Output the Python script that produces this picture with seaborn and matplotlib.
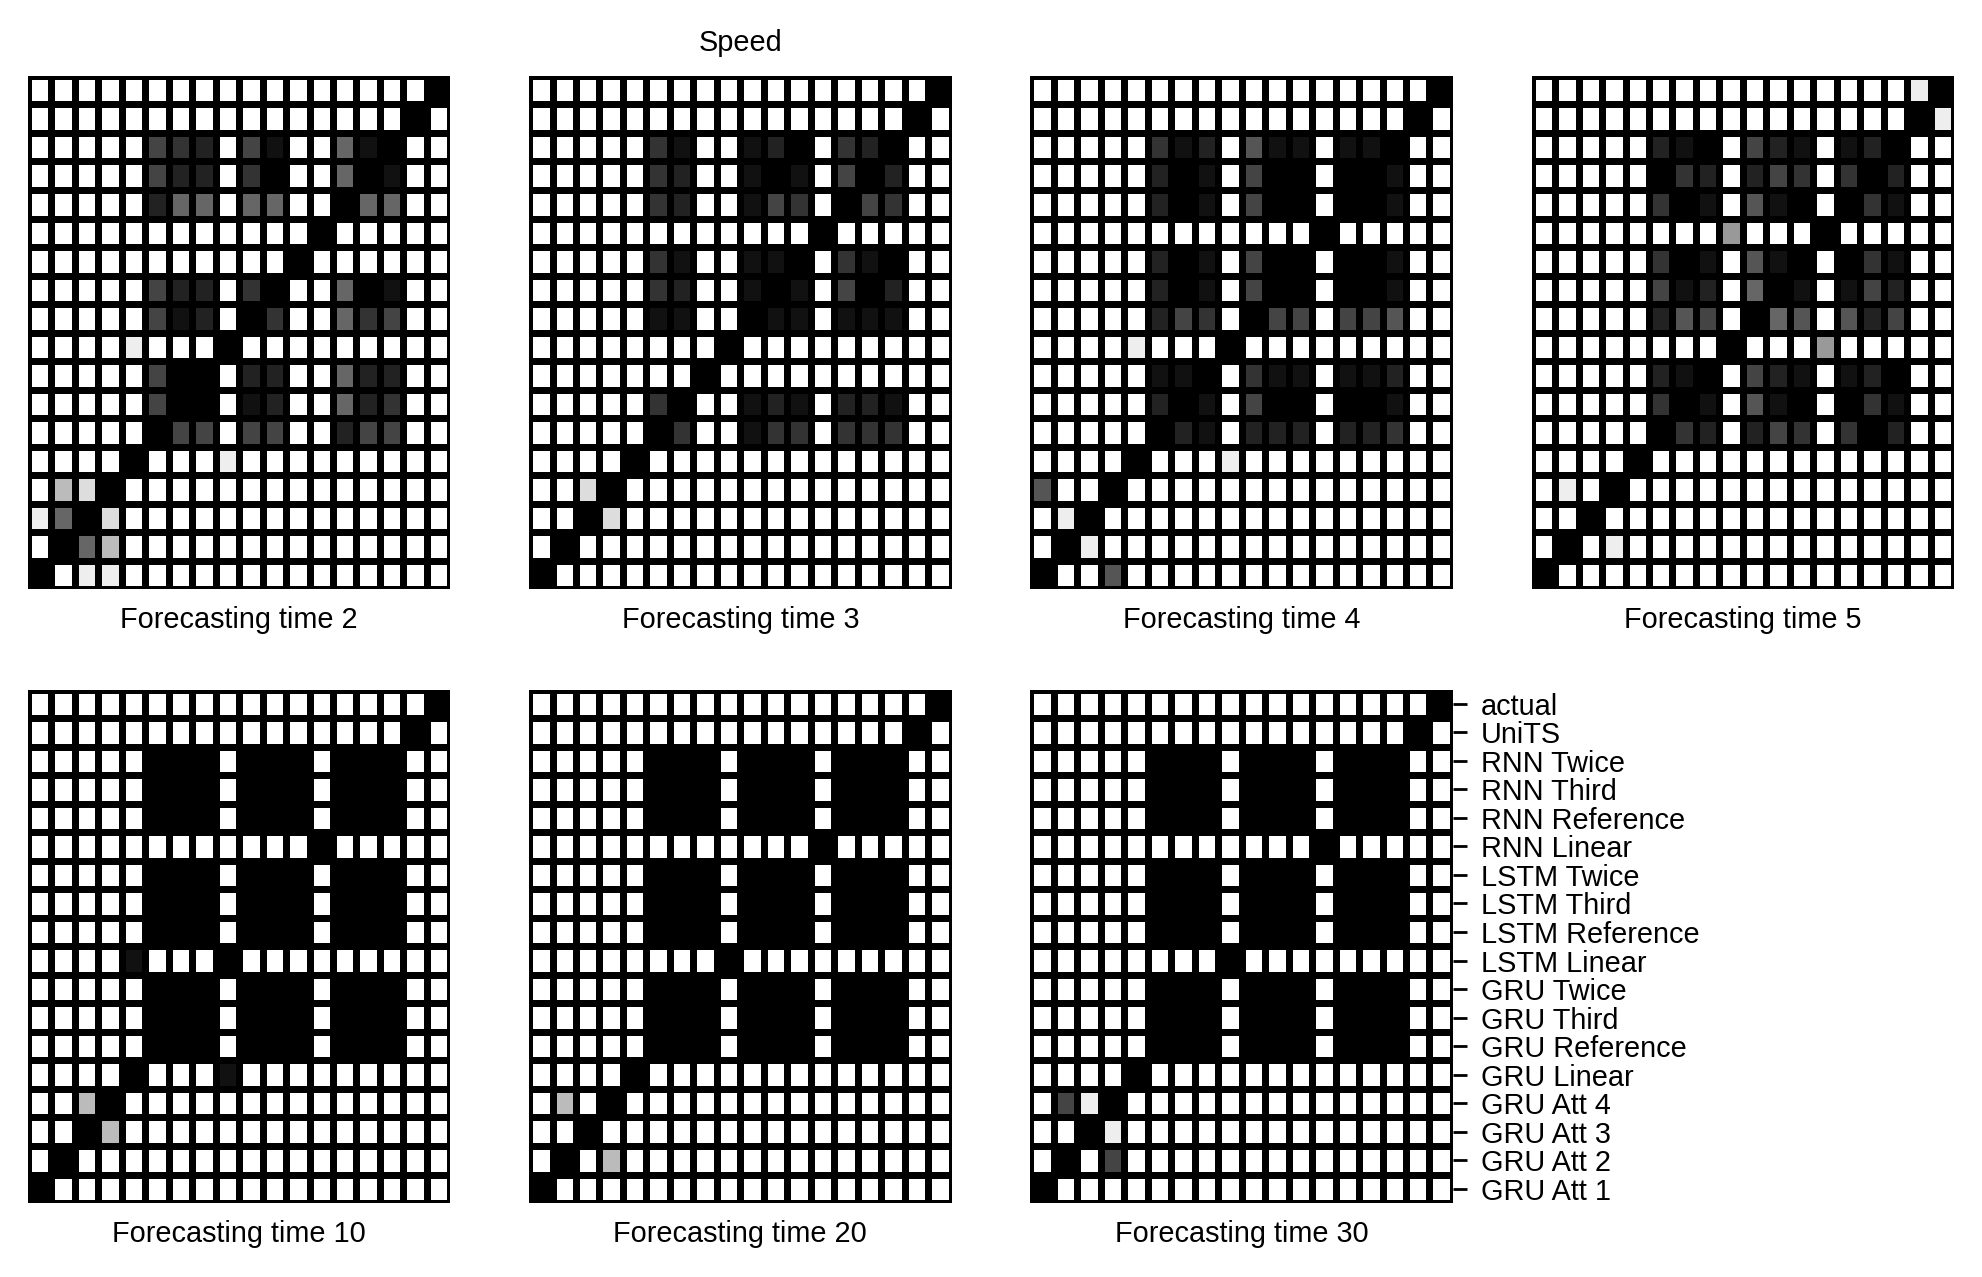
import numpy as np
import pandas as pd
import matplotlib
matplotlib.use("Agg")
import matplotlib.pyplot as plt
import seaborn as sns

sns.set_style("white")
plt.rcParams['font.family'] = ['Liberation Sans', 'DejaVu Sans']
plt.rcParams['text.color'] = 'black'
plt.rcParams['axes.labelcolor'] = 'black'
plt.rcParams['xtick.color'] = 'black'
plt.rcParams['ytick.color'] = 'black'

# model names, top row to bottom row (columns run the other way, left to right = bottom to top)
models = ['actual', 'UniTS', 'RNN Twice', 'RNN Third', 'RNN Reference', 'RNN Linear',
          'LSTM Twice', 'LSTM Third', 'LSTM Reference', 'LSTM Linear',
          'GRU Twice', 'GRU Third', 'GRU Reference', 'GRU Linear',
          'GRU Att 4', 'GRU Att 3', 'GRU Att 2', 'GRU Att 1']

horizons = [2, 3, 4, 5, 10, 20, 30]

# cell shades, one hex digit per cell: 0 = black, f = white
time2 = ["fffffffffffffffff0",
         "ffffffffffffffff0f",
         "fffff432f41ff610ff",
         "fffff422f30ff601ff",
         "fffff266f66ff066ff",
         "ffffffffffff0fffff",
         "fffffffffff0ffffff",
         "fffff422f30ff601ff",
         "fffff412f03ff634ff",
         "ffffefff0fffffffff",
         "fffff400f22ff622ff",
         "fffff400f12ff623ff",
         "fffff044f44ff244ff",
         "ffff0fffefffffffff",
         "fbd0ffffffffffffff",
         "e60dffffffffffffff",
         "f06bffffffffffffff",
         "0feeffffffffffffff"]

time3 = ["fffffffffffffffff0",
         "ffffffffffffffff0f",
         "fffff31ff120f320ff",
         "fffff32ff101f402ff",
         "fffff32ff143f043ff",
         "ffffffffffff0fffff",
         "fffff31ff110f310ff",
         "fffff32ff101f402ff",
         "fffff11ff011f111ff",
         "ffffffff0fffffffff",
         "fffffff0ffffffffff",
         "fffff30ff121f221ff",
         "fffff03ff133f333ff",
         "ffff0fffffffffffff",
         "ffd0ffffffffffffff",
         "ff0dffffffffffffff",
         "f0ffffffffffffffff",
         "0fffffffffffffffff"]

time4 = ["fffffffffffffffff0",
         "ffffffffffffffff0f",
         "fffff312f511f110ff",
         "fffff201f400f001ff",
         "fffff201f400f001ff",
         "ffffffffffff0fffff",
         "fffff201f400f001ff",
         "fffff201f400f001ff",
         "fffff243f044f445ff",
         "ffffefff0fffffffff",
         "fffff110f311f112ff",
         "fffff201f400f001ff",
         "fffff021f222f223ff",
         "ffff0fffefffffffff",
         "5ff0ffffffffffffff",
         "fe0fffffffffffffff",
         "f0efffffffffffffff",
         "0ff5ffffffffffffff"]

time5 = ["ffffffffffffffffe0",
         "ffffffffffffffff0e",
         "fffff210f421f120ff",
         "fffff032f243f302ff",
         "fffff301f510f031ff",
         "ffffffff9fff0fffff",
         "fffff301f510f031ff",
         "fffff412f601f142ff",
         "fffff254f065f524ff",
         "ffffffff0fff9fffff",
         "fffff210f421f120ff",
         "fffff301f510f031ff",
         "fffff032f243f302ff",
         "ffff0fffffffffffff",
         "fef0ffffffffffffff",
         "ff0fffffffffffffff",
         "f0feffffffffffffff",
         "0fffffffffffffffff"]

time10 = ["fffffffffffffffff0",
          "ffffffffffffffff0f",
          "fffff000f000f000ff",
          "fffff000f000f000ff",
          "fffff000f000f000ff",
          "ffffffffffff0fffff",
          "fffff000f000f000ff",
          "fffff000f000f000ff",
          "fffff000f000f000ff",
          "ffff1fff0fffffffff",
          "fffff000f000f000ff",
          "fffff000f000f000ff",
          "fffff000f000f000ff",
          "ffff0fff1fffffffff",
          "ffb0ffffffffffffff",
          "ff0bffffffffffffff",
          "f0ffffffffffffffff",
          "0fffffffffffffffff"]

time20 = ["fffffffffffffffff0",
          "ffffffffffffffff0f",
          "fffff000f000f000ff",
          "fffff000f000f000ff",
          "fffff000f000f000ff",
          "ffffffffffff0fffff",
          "fffff000f000f000ff",
          "fffff000f000f000ff",
          "fffff000f000f000ff",
          "ffffffff0fffffffff",
          "fffff000f000f000ff",
          "fffff000f000f000ff",
          "fffff000f000f000ff",
          "ffff0fffffffffffff",
          "fbf0ffffffffffffff",
          "ff0fffffffffffffff",
          "f0fbffffffffffffff",
          "0fffffffffffffffff"]

time30 = ["fffffffffffffffff0",
          "ffffffffffffffff0f",
          "fffff000f000f000ff",
          "fffff000f000f000ff",
          "fffff000f000f000ff",
          "ffffffffffff0fffff",
          "fffff000f000f000ff",
          "fffff000f000f000ff",
          "fffff000f000f000ff",
          "ffffffff0fffffffff",
          "fffff000f000f000ff",
          "fffff000f000f000ff",
          "fffff000f000f000ff",
          "ffff0fffffffffffff",
          "f4e0ffffffffffffff",
          "ff0effffffffffffff",
          "f0f4ffffffffffffff",
          "0fffffffffffffffff"]

panels = [time2, time3, time4, time5, time10, time20, time30]


def to_frame(rows):
    # darkness 0..1, 1 = black
    vals = [[1 - int(ch, 16) / 15 for ch in r] for r in rows]
    return pd.DataFrame(vals, index=models, columns=models[::-1])


fig, axes = plt.subplots(2, 4, figsize=(9.91, 6.385), dpi=200)
plt.subplots_adjust(left=0.014, right=0.986, top=0.9406, bottom=0.0579,
                    wspace=0.186, hspace=0.195)

for i, ax in enumerate(axes.flat):
    if i >= len(panels):
        ax.axis('off')
        continue
    last = i == len(panels) - 1
    sns.heatmap(to_frame(panels[i]), ax=ax, cmap='gray_r', vmin=0, vmax=1, cbar=False,
                linewidths=2.4, linecolor='black',
                xticklabels=False, yticklabels=models if last else False)
    ax.set_xlabel(f'Forecasting time {horizons[i]}', fontsize=10.4, labelpad=6)
    ax.set_ylabel('')
    if last:
        ax.yaxis.tick_right()
        ax.tick_params(axis='y', left=False, right=True, length=5, width=1,
                       pad=5, labelsize=10.4, labelrotation=0, color='black',
                       labelcolor='black')
    else:
        ax.tick_params(left=False, bottom=False)
    if i == 1:
        ax.set_title('Speed', fontsize=10.4, pad=9)

plt.savefig('out.png', dpi=200)
